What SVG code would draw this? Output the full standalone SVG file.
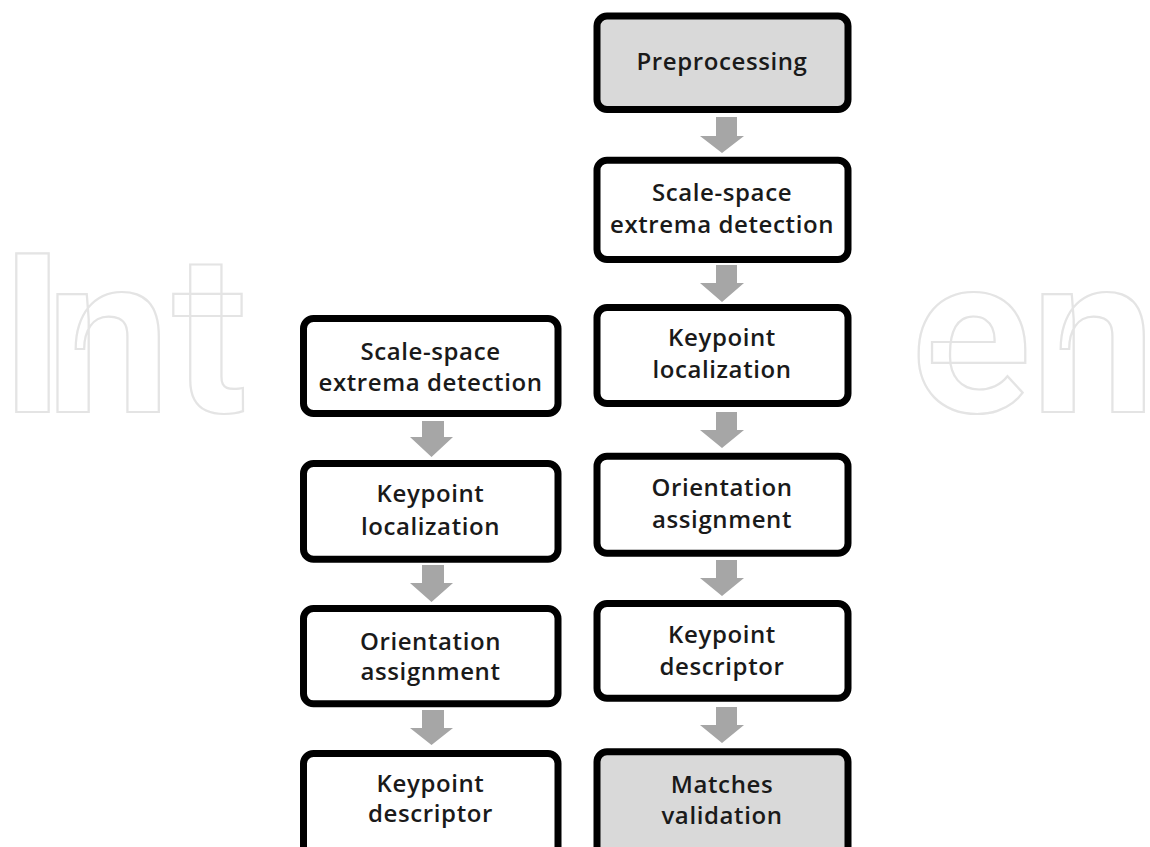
<svg xmlns="http://www.w3.org/2000/svg" width="1150" height="847" viewBox="0 0 1150 847">
  <style>
    .box { stroke: #000; stroke-width: 7; }
    .w { fill: #ffffff; }
    .g { fill: #d9d9d9; }
    .lbl { font-family: "Open Sans", "Liberation Sans", sans-serif; font-size: 24px; font-weight: 600; fill: #1a1a1a; text-anchor: middle; letter-spacing: 0.6px; }
    .arrow { fill: #a6a6a6; }
    .wm { font-family: Roboto, "Liberation Sans", sans-serif; font-size: 222px; font-weight: 700; fill: none; stroke: #e4e4e4; stroke-width: 2.2; }
  </style>
  <rect x="0" y="0" width="1150" height="847" fill="#ffffff"/>
  <g id="watermark">
    <text class="wm" x="0 46 172" y="412">Int</text>
    <text class="wm" x="911 1031" y="412">en</text>
  </g>
  <g id="connectors">
    <polygon class="arrow" points="716,117 737,117 737,136 744,136 722,153 700,136 716,136"/>
    <polygon class="arrow" points="716,265 737,265 737,283 744,283 722,302 700,283 716,283"/>
    <polygon class="arrow" points="716,412 737,412 737,430 744,430 722,448 700,430 716,430"/>
    <polygon class="arrow" points="716,560 737,560 737,578 744,578 722,596 700,578 716,578"/>
    <polygon class="arrow" points="716,707 737,707 737,725 744,725 722,743 700,725 716,725"/>
    <polygon class="arrow" points="422,421 444,421 444,437 453,437 431.5,457 410,437 422,437"/>
    <polygon class="arrow" points="422,565 444,565 444,583 453,583 431.5,602 410,583 422,583"/>
    <polygon class="arrow" points="422,710 444,710 444,728 453,728 431.5,745 410,728 422,728"/>
  </g>
  <g id="r1">
    <rect class="box g" x="597" y="16" width="251" height="93.5" rx="10"/>
    <text class="lbl" x="722" y="70">Preprocessing</text>
  </g>
  <g id="r2">
    <rect class="box w" x="597" y="160.2" width="251" height="99.3" rx="10"/>
    <text class="lbl" x="722" y="201">Scale-space</text>
    <text class="lbl" x="722" y="233">extrema detection</text>
  </g>
  <g id="r3">
    <rect class="box w" x="597" y="307.5" width="251" height="96" rx="10"/>
    <text class="lbl" x="722" y="346">Keypoint</text>
    <text class="lbl" x="722" y="378">localization</text>
  </g>
  <g id="r4">
    <rect class="box w" x="597" y="456.2" width="251" height="97" rx="10"/>
    <text class="lbl" x="722" y="496">Orientation</text>
    <text class="lbl" x="722" y="528">assignment</text>
  </g>
  <g id="r5">
    <rect class="box w" x="597" y="603.5" width="251" height="94.7" rx="10"/>
    <text class="lbl" x="722" y="643">Keypoint</text>
    <text class="lbl" x="722" y="675">descriptor</text>
  </g>
  <g id="r6">
    <rect class="box g" x="597" y="751.8" width="251" height="105" rx="10"/>
    <text class="lbl" x="722" y="793">Matches</text>
    <text class="lbl" x="722" y="824">validation</text>
  </g>
  <g id="l1">
    <rect class="box w" x="303.5" y="318.5" width="254.5" height="95" rx="10"/>
    <text class="lbl" x="430.5" y="360">Scale-space</text>
    <text class="lbl" x="430.5" y="391">extrema detection</text>
  </g>
  <g id="l2">
    <rect class="box w" x="303.5" y="463.5" width="254.5" height="95.7" rx="10"/>
    <text class="lbl" x="430.5" y="502">Keypoint</text>
    <text class="lbl" x="430.5" y="535">localization</text>
  </g>
  <g id="l3">
    <rect class="box w" x="303.5" y="608.5" width="254.5" height="95.3" rx="10"/>
    <text class="lbl" x="430.5" y="650">Orientation</text>
    <text class="lbl" x="430.5" y="680">assignment</text>
  </g>
  <g id="l4">
    <rect class="box w" x="303.5" y="753.5" width="254.5" height="105" rx="10"/>
    <text class="lbl" x="430.5" y="792">Keypoint</text>
    <text class="lbl" x="430.5" y="822">descriptor</text>
  </g>
</svg>
